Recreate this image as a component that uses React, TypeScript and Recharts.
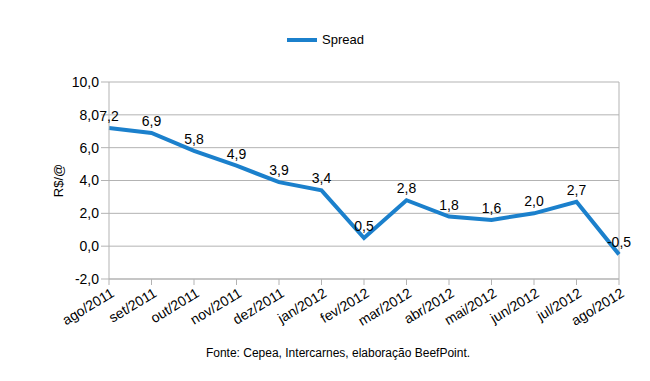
import React from "react";
import {
  LineChart,
  Line,
  XAxis,
  YAxis,
  CartesianGrid,
  LabelList,
} from "recharts";

const months = [
  "ago/2011",
  "set/2011",
  "out/2011",
  "nov/2011",
  "dez/2011",
  "jan/2012",
  "fev/2012",
  "mar/2012",
  "abr/2012",
  "mai/2012",
  "jun/2012",
  "jul/2012",
  "ago/2012",
];
const spread = [7.2, 6.9, 5.8, 4.9, 3.9, 3.4, 0.5, 2.8, 1.8, 1.6, 2.0, 2.7, -0.5];
const yTicks = [-2, 0, 2, 4, 6, 8, 10];

const data = months.map((month, i) => ({ month, Spread: spread[i] }));

const fmt = (v: number) => v.toFixed(1).replace(".", ",");
const FONT = "'Liberation Sans', Arial, sans-serif";
const BLUE = "#1b80cc";

function XTick(props: any) {
  const { x, y, payload } = props;
  return (
    <g transform={`translate(${x + 2},${y + 2})`}>
      <text
        textAnchor="end"
        transform="rotate(-31)"
        fontSize={14}
        fontFamily={FONT}
        fill="#000"
        dy={8}
      >
        {payload.value}
      </text>
    </g>
  );
}

export default function App() {
  return (
    <div style={{ position: "absolute", left: 0, top: 0, width: 650, height: 381, background: "#fff" }}>
      {/* legend drawn outside the chart so it doesn't shift the plot */}
      <div
        style={{
          position: "absolute",
          top: 32,
          left: 287,
          display: "flex",
          alignItems: "center",
          fontFamily: FONT,
          fontSize: 13,
          color: "#000",
        }}
      >
        <span
          style={{ display: "inline-block", width: 30, height: 4, background: BLUE, marginRight: 5 }}
        />
        Spread
      </div>
      <LineChart
        width={650}
        height={381}
        data={data}
        margin={{ top: 82, right: 31, bottom: 72, left: 49 }}
      >
        <CartesianGrid stroke="#b3b3b3" vertical={true} verticalPoints={[619]} />
        <XAxis
          dataKey="month"
          padding={{ left: 0, right: 0 }}
          interval={0}
          tick={<XTick />}
          tickSize={6}
          stroke="#b3b3b3"
        />
        <YAxis
          width={60}
          domain={[-2, 10]}
          ticks={yTicks}
          tickFormatter={fmt}
          tickSize={8}
          tickMargin={2}
          stroke="#b3b3b3"
          tick={{ fill: "#000", fontSize: 14, fontFamily: FONT }}
          label={{
            value: "R$/@",
            angle: -90,
            position: "insideLeft",
            offset: 9,
            style: { fill: "#000", fontSize: 13, fontFamily: FONT, textAnchor: "middle" },
          }}
        />
        <Line
          type="linear"
          dataKey="Spread"
          stroke={BLUE}
          strokeWidth={4}
          dot={false}
          activeDot={false}
          isAnimationActive={false}
        >
          <LabelList
            dataKey="Spread"
            position="top"
            offset={7}
            formatter={(v: any) => fmt(Number(v))}
            style={{ fill: "#000", fontSize: 14, fontFamily: FONT }}
          />
        </Line>
      </LineChart>
      <div
        style={{
          position: "absolute",
          top: 346,
          left: 0,
          width: 676,
          textAlign: "center",
          fontFamily: FONT,
          fontSize: 12,
          color: "#000",
        }}
      >
        Fonte: Cepea, Intercarnes, elaboração BeefPoint.
      </div>
    </div>
  );
}
